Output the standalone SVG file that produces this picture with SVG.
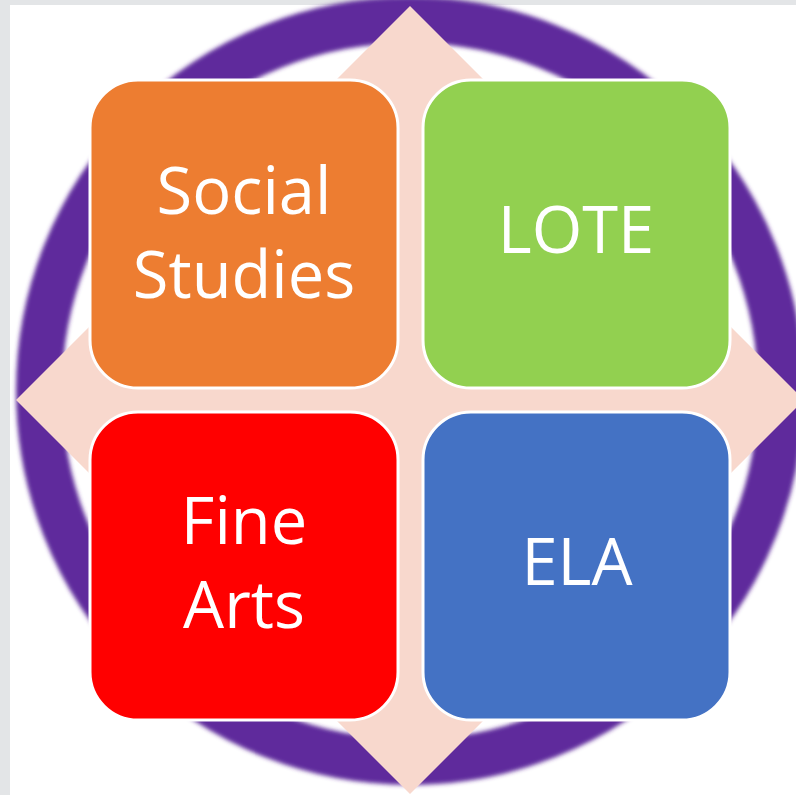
<svg xmlns="http://www.w3.org/2000/svg" width="796" height="795" viewBox="0 0 796 795">
  <style>
    .box { stroke: #ffffff; stroke-width: 3; }
    .lbl { font-family: "Open Sans", "Liberation Sans", sans-serif; font-size: 65px; fill: #ffffff; text-anchor: middle; }
  </style>
  <defs>
    <filter id="soft" x="-10%" y="-10%" width="120%" height="120%">
      <feGaussianBlur stdDeviation="2.2"/>
    </filter>
  </defs>
  <rect x="0" y="0" width="796" height="795" fill="#E3E5E7"/>
  <rect x="10" y="5" width="786" height="790" fill="#ffffff"/>
  <g id="ring">
    <circle cx="410" cy="391" r="371" fill="none" stroke="#5E2C9C" stroke-width="46" filter="url(#soft)"/>
  </g>
  <g id="diamond">
    <polygon points="410,6 804,400 410,794 16,400" fill="#F8D8CD"/>
  </g>
  <g id="social-studies">
    <rect class="box" x="90" y="80" width="308" height="308" rx="48" fill="#ED7D31"/>
    <text class="lbl" x="244" y="214">Social</text>
    <text class="lbl" x="244" y="298">Studies</text>
  </g>
  <g id="lote">
    <rect class="box" x="423" y="80" width="307" height="308" rx="48" fill="#92D050"/>
    <text class="lbl" x="576" y="253">LOTE</text>
  </g>
  <g id="fine-arts">
    <rect class="box" x="90" y="412" width="308" height="308" rx="48" fill="#FF0000"/>
    <text class="lbl" x="244" y="544">Fine</text>
    <text class="lbl" x="244" y="628">Arts</text>
  </g>
  <g id="ela">
    <rect class="box" x="423" y="412" width="307" height="308" rx="48" fill="#4472C4"/>
    <text class="lbl" x="577" y="585">ELA</text>
  </g>
  <g id="connectors"></g>
</svg>
